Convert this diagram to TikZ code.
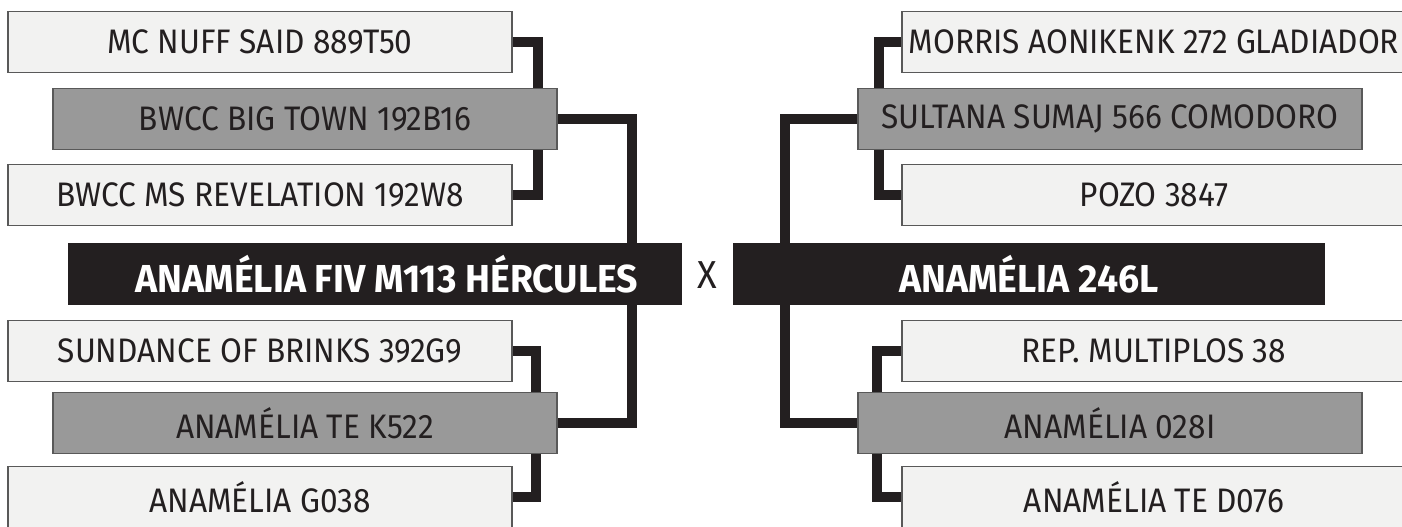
\documentclass[tikz,border=0pt]{standalone}
\usepackage{fontspec}
\setmainfont{Fira Sans}[FakeStretch=0.93, BoldFeatures={FakeStretch=0.96}]
\usepackage{xcolor}
\usepackage{tikz}
\usetikzlibrary{positioning, backgrounds}

\definecolor{inkblack}{HTML}{231F20}
\definecolor{boxlight}{HTML}{F2F2F1}
\definecolor{boxgrey}{HTML}{999999}

\begin{document}
\begin{tikzpicture}[
    x=1pt, y=-1pt,
    font=\fontsize{34}{37}\selectfont,
    dam/.style={rectangle, draw=black!65, line width=1.2pt, fill=boxlight, minimum width=504pt, minimum height=61pt, inner sep=0pt, text=inkblack},
    grand/.style={dam, fill=boxgrey},
    sire/.style={rectangle, fill=inkblack, minimum height=62pt, inner sep=0pt, text=white, font=\fontsize{39}{42}\selectfont\bfseries},
    link/.style={draw=inkblack, line width=10pt}
  ]
    \useasboundingbox (0,0) rectangle (1402,527);

    % left pedigree
    \node[dam] (nuff) at (260, 42) {MC NUFF SAID 889T50};
    \node[grand] (bigtown) at (305, 119) {BWCC BIG TOWN 192B16};
    \node[dam] (revel) at (260, 195) {BWCC MS REVELATION 192W8};
    \node[sire, minimum width=614pt] (hercules) at (375, 274) {\hspace*{24pt}ANAMÉLIA FIV M113 HÉRCULES};
    \node[dam] (sundance) at (260, 351) {SUNDANCE OF BRINKS 392G9};
    \node[grand] (k522) at (305, 423) {ANAMÉLIA TE K522};
    \node[dam] (g038) at (260, 497) {ANAMÉLIA G038};

    \node[text=inkblack, inner sep=0pt, font=\fontsize{39}{42}\selectfont] (vs) at (707.5, 275) {X};

    % right pedigree
    \node[dam] (morris) at (1154, 42) {MORRIS AONIKENK 272 GLADIADOR};
    \node[grand] (sultana) at (1110, 119) {SULTANA SUMAJ 566 COMODORO};
    \node[dam] (pozo) at (1154, 195) {POZO 3847};
    \node[sire, minimum width=592pt] (l246) at (1029, 274) {ANAMÉLIA 246L};
    \node[dam] (rep) at (1154, 351) {REP. MULTIPLOS 38};
    \node[grand] (i028) at (1110, 423) {ANAMÉLIA 028I};
    \node[dam] (d076) at (1154, 497) {ANAMÉLIA TE D076};

    % joints
    \coordinate (jLa) at (538, 119);
    \coordinate (jLb) at (536, 423);
    \coordinate (jL) at (632, 274);
    \coordinate (jRa) at (879, 119);
    \coordinate (jRb) at (877, 423);
    \coordinate (jR) at (785, 274);

    \begin{scope}[on background layer]
      \draw[link] (nuff.east) -| (jLa) |- (revel.east);
      \draw[link] (bigtown.east) -| (jL) |- (k522.east);
      \draw[link] (sundance.east) -| (jLb) |- (g038.east);

      \draw[link] (morris.west) -| (jRa) |- (pozo.west);
      \draw[link] (sultana.west) -| (jR) |- (i028.west);
      \draw[link] (rep.west) -| (jRb) |- (d076.west);
    \end{scope}

  \end{tikzpicture}
\end{document}
